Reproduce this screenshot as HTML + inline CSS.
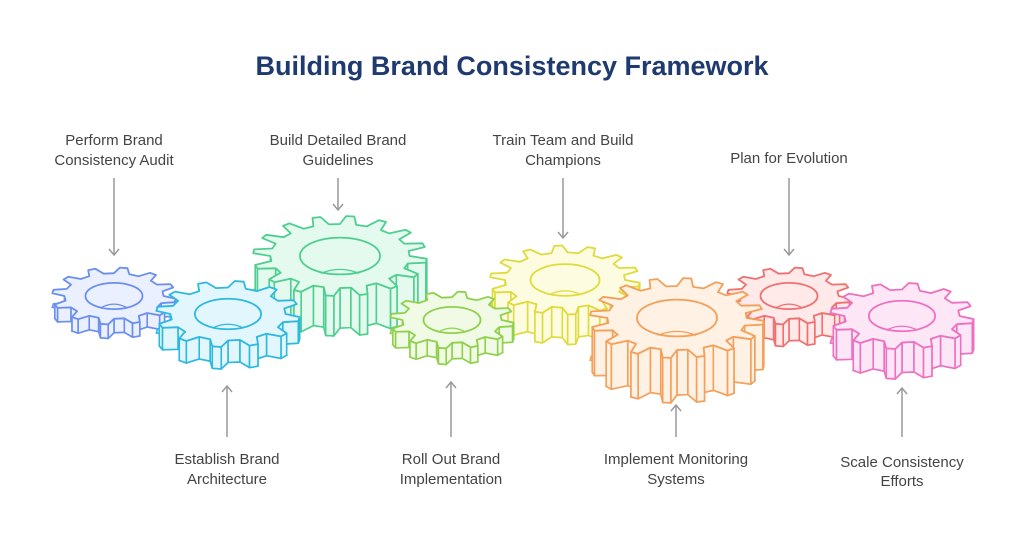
<!DOCTYPE html>
<html><head><meta charset="utf-8"><style>
body{margin:0;background:#fff;width:1024px;height:543px;overflow:hidden;font-family:"Liberation Sans",sans-serif}
svg{display:block}
</style></head><body>
<svg id="s" width="1024" height="543" viewBox="0 0 1024 543" xmlns="http://www.w3.org/2000/svg">
<defs><marker id="a" markerWidth="12" markerHeight="12" refX="10" refY="6" orient="auto" markerUnits="userSpaceOnUse"><path d="M4,1 L10,6 L4,11" fill="none" stroke="#999" stroke-width="1.5"/></marker></defs>
<text x="512" y="75" text-anchor="middle" font-size="27" font-weight="bold" fill="#1f3a6e">Building Brand Consistency Framework</text>
<g font-size="15" fill="#444" text-anchor="middle">
<text x="114" y="145">Perform Brand</text><text x="114" y="165">Consistency Audit</text>
<text x="338" y="145">Build Detailed Brand</text><text x="338" y="165">Guidelines</text>
<text x="563" y="145">Train Team and Build</text><text x="563" y="165">Champions</text>
<text x="789" y="163">Plan for Evolution</text>
<text x="227" y="464">Establish Brand</text><text x="227" y="484">Architecture</text>
<text x="451" y="464">Roll Out Brand</text><text x="451" y="484">Implementation</text>
<text x="676" y="464">Implement Monitoring</text><text x="676" y="484">Systems</text>
<text x="902" y="467">Scale Consistency</text><text x="902" y="486">Efforts</text>
</g>
<g stroke="#999" stroke-width="1.5" fill="none">
<line x1="114" y1="178" x2="114" y2="255" marker-end="url(#a)"/>
<line x1="338" y1="178" x2="338" y2="210" marker-end="url(#a)"/>
<line x1="563" y1="178" x2="563" y2="238" marker-end="url(#a)"/>
<line x1="789" y1="178" x2="789" y2="255" marker-end="url(#a)"/>
<line x1="227" y1="437" x2="227" y2="386" marker-end="url(#a)"/>
<line x1="451" y1="437" x2="451" y2="382" marker-end="url(#a)"/>
<line x1="676" y1="437" x2="676" y2="405" marker-end="url(#a)"/>
<line x1="902" y1="437" x2="902" y2="388" marker-end="url(#a)"/>
</g>
<g id="g"></g>
</svg>
<script>
var gears=[
[114,296,62,14,12,"#6b8ff0","#eaf0ff"],
[340,256,87,40,16,"#4fcf8f","#e5faef"],
[565,280,75,30,14,"#dedb3c","#fdfce0"],
[789,296,62,22,12,"#f07070","#ffe9e9"],
[228,314,72,22,12,"#2fb8e0","#e2f7fd"],
[452,320,62,16,12,"#8fd14f","#f1fae4"],
[677,318,87,45,16,"#f2a05a","#fff1e4"],
[902,316,72,30,12,"#ee70c0","#fde7f6"]];
var G=document.getElementById("g"),NS="http://www.w3.org/2000/svg";
function el(t,a){var e=document.createElementNS(NS,t);for(var k in a)e.setAttribute(k,a[k]);G.appendChild(e);return e;}
gears.forEach(function(g){
 var cx=g[0],cy=g[1],r=g[2],t=g[3],n=g[4],st=g[5],fl=g[6],k=0.46,ri=r*0.8,pts=[];
 for(var i=0;i<n;i++){var b=i*2*Math.PI/n,s=2*Math.PI/n;
  [[0,ri],[0.18,r],[0.42,r],[0.6,ri]].forEach(function(p){var a=b+p[0]*s;pts.push([Math.cos(a)*p[1],Math.sin(a)*p[1]]);});}
 function P(dy){return pts.map(function(p){return (cx+p[0]).toFixed(1)+","+(cy+p[1]*k+dy).toFixed(1)}).join(" ");}
 var sw="stroke-width";
 el("polygon",{points:P(t),fill:fl,stroke:st,[sw]:1.6});
 var quads=[];
 for(var i=0;i<pts.length;i++){var p=pts[i],q=pts[(i+1)%pts.length];
  var m=(p[1]+q[1])/2; if(m<-2)continue; quads.push([m,p,q]);}
 quads.sort(function(a,b){return a[0]-b[0]});
 quads.forEach(function(Q){var p=Q[1],q=Q[2];
  var x1=cx+p[0],y1=cy+p[1]*k,x2=cx+q[0],y2=cy+q[1]*k;
  el("polygon",{points:x1+","+y1+" "+x2+","+y2+" "+x2+","+(y2+t)+" "+x1+","+(y1+t),fill:fl,stroke:st,[sw]:1.6,"stroke-linejoin":"round"});});
 el("polygon",{points:P(0),fill:fl,stroke:st,[sw]:1.8,"stroke-linejoin":"round"});
 el("ellipse",{cx:cx,cy:cy,rx:r*0.46,ry:r*0.46*k,fill:fl,stroke:st,[sw]:1.8});
 el("path",{d:"M"+(cx-r*0.22)+","+(cy+r*0.46*k-1)+" Q"+cx+","+(cy+r*0.46*k-9)+" "+(cx+r*0.22)+","+(cy+r*0.46*k-1),fill:"none",stroke:st,[sw]:1.2});
});
</script>
</body></html>
